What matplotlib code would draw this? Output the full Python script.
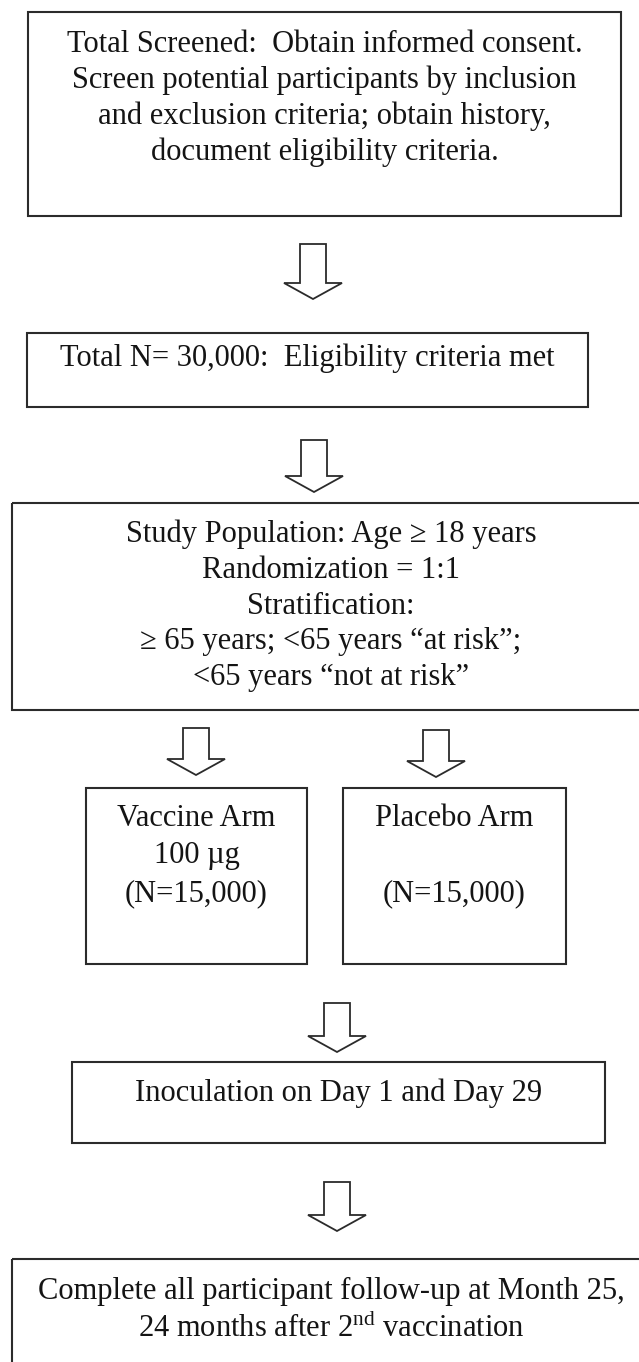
"""
Study design flow chart: screening -> randomization -> two arms -> follow-up
"""

import matplotlib.pyplot as plt
from matplotlib.patches import Rectangle, Polygon

plt.rcParams['font.family'] = ['Liberation Serif', 'DejaVu Serif']
plt.rcParams['mathtext.fontset'] = 'custom'
plt.rcParams['mathtext.rm'] = 'Liberation Serif'

# Box texts (one entry per line)
screening_text = ['Total Screened:  Obtain informed consent.',
                  'Screen potential participants by inclusion',
                  'and exclusion criteria; obtain history,',
                  'document eligibility criteria.']
eligible_text = ['Total N= 30,000:  Eligibility criteria met']
population_text = ['Study Population: Age \u2265 18 years',
                   'Randomization = 1:1',
                   'Stratification:',
                   '\u2265 65 years; <65 years \u201cat risk\u201d;',
                   '<65 years \u201cnot at risk\u201d']
vaccine_text = ['Vaccine Arm', '100 \u00b5g', '(N=15,000)']
placebo_text = ['Placebo Arm', '', '(N=15,000)']
inoculation_text = ['Inoculation on Day 1 and Day 29']
followup_text = ['Complete all participant follow-up at Month 25,',
                 r'24 months after 2$^{\mathrm{nd}}$ vaccination']

# Layout in pixel units: (x0, x1, y0, y1), first line y, line step
boxes = [
    (screening_text, (28, 621, 12, 216), 44, 36),
    (eligible_text, (27, 588, 333, 407), 358, 36),
    (population_text, (12, 650, 503, 710), 534, 36),
    (vaccine_text, (86, 307, 788, 964), 818, 38),
    (placebo_text, (343, 566, 788, 964), 818, 38),
    (inoculation_text, (72, 605, 1062, 1143), 1093, 36),
    (followup_text, (12, 650, 1259, 1420), 1291, 37),
]

# Hollow block arrows: centre x, top y, tip y
arrows = [(313, 244, 299), (314, 440, 492), (196, 728, 775),
          (436, 730, 777), (337, 1003, 1052), (337, 1182, 1231)]

fig = plt.figure(figsize=(6.39, 13.62), dpi=100)
ax = fig.add_axes([0, 0, 1, 1])
ax.set_xlim(0, 639)
ax.set_ylim(1362, 0)
ax.axis('off')

line_col = '#2b2b2b'
text_col = '#141414'

for lines, (x0, x1, y0, y1), ty, step in boxes:
    ax.add_patch(Rectangle((x0, y0), x1 - x0, y1 - y0, fill=False,
                           edgecolor=line_col, linewidth=1.5))
    xc = (x0 + x1) / 2
    for i, line in enumerate(lines):
        if line:
            ax.text(xc, ty + i * step, line, ha='center', va='center',
                    fontsize=22, color=text_col)

shaft, head, head_len = 26, 58, 16
for xc, top, tip in arrows:
    pts = [(xc - shaft / 2, top), (xc + shaft / 2, top),
           (xc + shaft / 2, tip - head_len), (xc + head / 2, tip - head_len),
           (xc, tip), (xc - head / 2, tip - head_len),
           (xc - shaft / 2, tip - head_len)]
    ax.add_patch(Polygon(pts, closed=True, facecolor='white',
                         edgecolor=line_col, linewidth=1.3))

fig.savefig('out.png', dpi=100, facecolor='white')
